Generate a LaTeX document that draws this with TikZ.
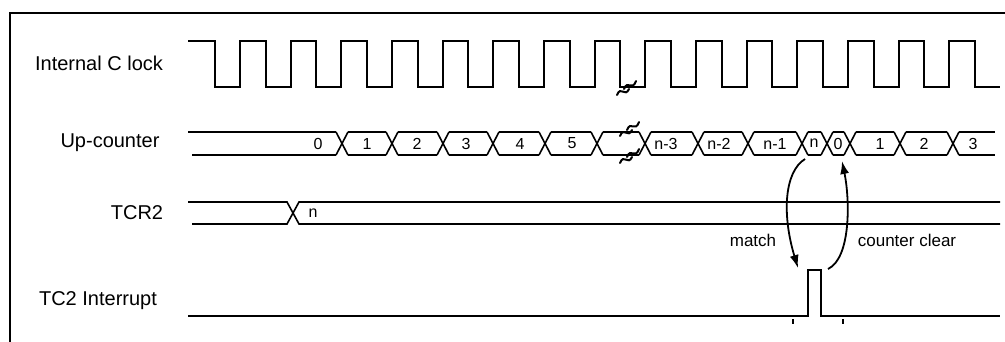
\documentclass[tikz,border=0pt]{standalone}
\usepackage{fontspec}
\setmainfont{Liberation Sans}
\usetikzlibrary{arrows.meta}

\begin{document}
\begin{tikzpicture}[
    x=1pt, y=-1pt,
    signal/.style={line width=1.8pt, line join=miter},
    bus/.style={line width=1.6pt},
    signame/.style={font=\fontsize{20}{24}\selectfont, inner sep=0pt},
    buslabel/.style={font=\fontsize{16}{19}\selectfont, inner sep=0pt},
    note/.style={font=\fontsize{17}{20}\selectfont, inner sep=0pt},
    arrow/.style={-{Latex[length=13pt, width=9pt]}, line width=1.8pt},
    breakmark/.style={line width=2pt, line cap=round}
]
\useasboundingbox (0,0) rectangle (1005,342);

% frame
\draw[line width=2pt] (10,342) -- (10,13) -- (1005,13);

% signal names
\node[signame] (clk_name) at (99,63) {Internal C lock};
\node[signame] (cnt_name) at (110,143) {Up-counter};
\node[signame] (tcr_name) at (137,213) {TCR2};
\node[signame] (irq_name) at (98,301) {TC2 Interrupt};

% clock
\draw[signal] (188,41) foreach \k in {0,...,14} {
    -- ({215+50.667*\k},41) -- ({215+50.667*\k},87)
    -- ({240+50.667*\k},87) -- ({240+50.667*\k},41)
} -- (975,41) -- (975,87) -- (1000,87);

% up-counter
\draw[bus] (188,132) -- (336,132) (192,155) -- (336,155);
\node[buslabel] (cnt0) at (318,143.5) {0};
\foreach \a/\b/\lx/\v [count=\i] in {342/392/367/1, 392/443/417/2, 443/493/466/3,
    493/545/520/4, 545/597/572/5, 645/698/666/n-3, 698/748/719/n-2,
    748/802/775/n-1, 802/827/814/n, 827/850/838/0, 850/900/880/1, 900/953/924/2} {
    \draw[bus] (\a+6,132) -- (\b-6,132) (\a+6,155) -- (\b-6,155);
    \node[buslabel] (cnt\i) at (\lx,143.5) {\v};
}
\draw[bus] (603,132) -- (639,132) (603,155) -- (639,155);
\draw[bus] (959,132) -- (995,132) (959,155) -- (995,155);
\node[buslabel] (cnt13) at (973,143.5) {3};
\foreach \t in {342,392,443,493,545,597,645,698,748,802,827,850,900,953}
    \draw[bus] (\t-6,132) -- (\t+6,155) (\t-6,155) -- (\t+6,132);

% break marks
\foreach \bx/\by in {627/88, 630/129, 630/156} {
    \draw[breakmark] (\bx-3,\by+1) .. controls (\bx+1,\by-9) and (\bx+5,\by+4) .. (\bx+9,\by-7);
    \draw[breakmark] (\bx-10,\by+7) .. controls (\bx-6,\by-3) and (\bx-2,\by+10) .. (\bx+2,\by+1);
}

% TCR2
\draw[bus] (188,202) -- (287,202) -- (299,224) -- (1000,224);
\draw[bus] (192,224) -- (287,224) -- (299,202) -- (1000,202);
\node[buslabel] (tcr_n) at (313,213) {n};

% TC2 interrupt
\draw[signal] (188,316) -- (808,316) -- (808,270) -- (821,270) -- (821,316) -- (1000,316);
\draw[line width=1.6pt] (793,319) -- (793,324) (843,319) -- (843,324);

% match / counter clear
\coordinate (cnt_n) at (805,159);
\coordinate (irq_in) at (798,268);
\coordinate (irq_out) at (828,269);
\coordinate (cnt_zero) at (842,161);
\draw[arrow] (cnt_n) .. controls (784,172) and (782,215) .. (irq_in);
\draw[arrow] (irq_out) .. controls (851,258) and (850,200) .. (cnt_zero);
\node[note] (match_lbl) at (753,240) {match};
\node[note] (clear_lbl) at (907,240) {counter clear};

\end{tikzpicture}
\end{document}
